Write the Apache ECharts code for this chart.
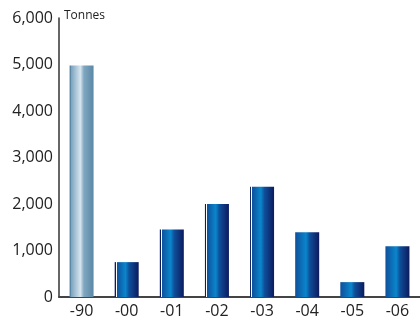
<!DOCTYPE html>
<html><head><meta charset="utf-8">
<script src="https://cdn.jsdelivr.net/npm/echarts@6/dist/echarts.min.js"></script>
<style>html,body{margin:0;padding:0;background:#fff}#c{width:420px;height:331px}</style>
</head><body><div id="c"></div>
<script>
const categories = ['-90','-00','-01','-02','-03','-04','-05','-06'];
const values = [4980, 750, 1450, 2000, 2370, 1390, 320, 1090];
const yTicks = [0, 1000, 2000, 3000, 4000, 5000, 6000];
const unitLabel = 'Tonnes';

function grad(edge, mid, light, withLine) {
  const stops = [];
  if (withLine) {
    stops.push({offset:0, color:edge},{offset:0.04, color:edge},
               {offset:0.04, color:'#ffffff'},{offset:0.08, color:'#ffffff'},
               {offset:0.08, color:mid});
  } else {
    stops.push({offset:0, color:mid});
  }
  stops.push({offset:0.45, color:light},{offset:0.6, color:mid},{offset:1, color:edge});
  return new echarts.graphic.LinearGradient(0,0,1,0,stops);
}

const data = values.map((v,i) => ({
  value: v,
  itemStyle: {
    color: i === 0 ? grad('#5a88a6', '#7fa6c0', '#d6e5ee', true)
                   : grad('#0c1a5e', '#0f4f9a', '#0a86cc', i < 5)
  }
}));

const chart = echarts.init(document.getElementById('c'));
chart.setOption({
  animation: false,
  grid: {left: 59, right: 0, top: 18, bottom: 34},
  xAxis: {
    type: 'category', data: categories,
    axisLine: {lineStyle: {color: '#444', width: 2}},
    axisTick: {show: false},
    axisLabel: {color: '#222', fontSize: 16, fontFamily: 'Open Sans', margin: 6}
  },
  yAxis: {
    type: 'value', min: yTicks[0], max: yTicks[yTicks.length-1], interval: 1000,
    name: unitLabel,
    nameLocation: 'end', nameGap: 2,
    nameTextStyle: {align: 'left', verticalAlign: 'middle', color: '#222', fontSize: 12, fontFamily: 'Open Sans', padding: [0,0,0,5]},
    axisLine: {show: true, lineStyle: {color: '#333', width: 1.5}},
    axisTick: {show: false},
    splitLine: {show: false},
    axisLabel: {color: '#222', fontSize: 16, fontFamily: 'Open Sans', margin: 6,
      formatter: v => v.toLocaleString('en-US')}
  },
  series: [{type: 'bar', data: data, barWidth: 24}]
});
</script></body></html>
